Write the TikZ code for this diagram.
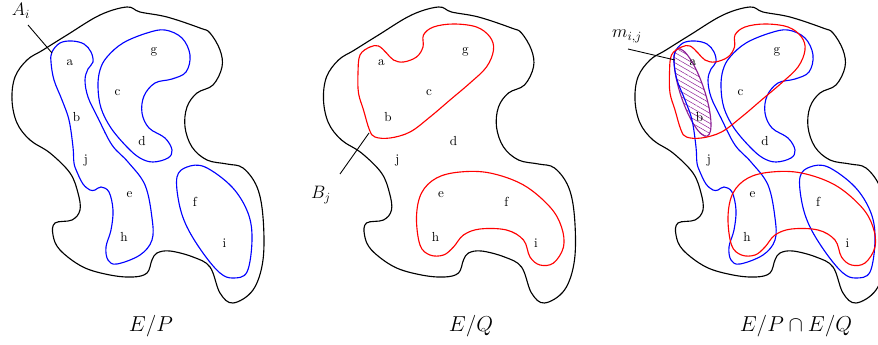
\documentclass[tikz,border=0pt]{standalone}
\usetikzlibrary{patterns.meta}
\definecolor{hatchc}{RGB}{140,30,150}
\tikzset{
  outline/.style={draw=black, line width=0.9pt},
  bluec/.style={draw=blue, line width=0.9pt},
  redc/.style={draw=red, line width=0.9pt},
  lbl/.style={inner sep=0pt, font=\fontsize{10.5}{12}\selectfont},
  plbl/.style={inner sep=0pt, font=\fontsize{14}{16}\selectfont},
  caption/.style={inner sep=0pt, font=\fontsize{16.5}{19}\selectfont},
  pointer/.style={draw=black, line width=0.7pt},
}
\newcommand\OuterShape[1]{\draw[outline,#1] plot[smooth cycle, tension=0.6] coordinates {
 (12,100) (17,123) (30,140) (50,153) (70,173) (78,193) (80,210) (72,220) (55,223) (53,235) (60,250) (83,267) (110,275) (133,277) (147,273) (152,260) (157,253) (170,251) (193,257) (210,267) (220,293) (233,303) (253,290) (263,260) (263,217) (257,187) (243,168) (227,164) (207,160) (192,147) (185,127) (187,107) (197,93) (213,85) (222,67) (220,50) (210,33) (200,28) (167,17) (140,12) (127,7) (100,15) (67,35) (43,50) (27,60) (15,77)};}
\newcommand\BlueA[1]{\draw[bluec,#1] plot[smooth cycle, tension=0.6] coordinates {
 (52,52) (60,43) (72,41) (84,44) (91,52) (93,62) (88,69) (85,80) (88,97) (98,118) (112,145) (128,162) (145,185) (152,218) (152,240) (140,255) (117,264) (108,260) (106,247) (111,230) (113,210) (109,192) (101,187) (95,190) (90,190) (83,184) (77,172) (74,163) (73,147) (69,120) (62,100) (54,80) (51,62)};}
\newcommand\BlueB[1]{\draw[bluec,#1] plot[smooth cycle, tension=0.6] coordinates {
 (98,87) (100,70) (107,57) (123,43) (147,33) (165,30) (182,38) (190,55) (186,72) (172,79) (155,83) (144,96) (142,113) (149,128) (165,138) (172,150) (168,158) (153,162) (140,158) (127,147) (111,128) (101,108)};}
\newcommand\BlueC[1]{\draw[bluec,#1] plot[smooth cycle, tension=0.6] coordinates {
 (177,177) (187,167) (205,167) (232,187) (248,213) (252,240) (247,272) (233,278) (220,273) (203,253) (187,227) (179,203)};}
\newcommand\RedA[1]{\draw[redc,#1] plot[smooth cycle, tension=0.6] coordinates {
 (46.5,73) (48.5,55) (58.5,47) (67,46) (75,53) (82,60) (92,62) (105,57) (111.5,47) (112,35) (122,27) (142,24) (165,27) (178.5,37) (182,50) (175,67) (158.5,83) (138.5,100) (118.5,117) (98.5,132) (78.5,138) (63.5,137) (58,130) (52,110) (47,93)};}
\newcommand\RedB[1]{\draw[redc,#1] plot[smooth cycle, tension=0.6] coordinates {
 (105,217) (110,193) (125,178) (148.5,172) (178.5,173) (212,185) (238.5,207) (250,227) (252,247) (242,263) (228.5,265) (218.5,257) (212,240) (195,230) (168.5,229) (152,235) (142,247) (132,255) (118.5,255) (108.5,245)};}
\newcommand\Letters[2]{%
 \begin{scope}[shift={(#1,0)}]
 \node[lbl] (a#2) at (70,63) {a};
 \node[lbl] (b#2) at (76.5,117) {b};
 \node[lbl] (c#2) at (117.5,93) {c};
 \node[lbl] (d#2) at (142,141) {d};
 \node[lbl] (e#2) at (129.5,195) {e};
 \node[lbl] (f#2) at (195,202) {f};
 \node[lbl] (g#2) at (154,52) {g};
 \node[lbl] (h#2) at (124,237) {h};
 \node[lbl] (i#2) at (224.5,243) {i};
 \node[lbl] (j#2) at (86,161) {j};
 \end{scope}}
\begin{document}
\begin{tikzpicture}[x=0.8pt, y=-0.8pt]
\useasboundingbox (0,0) rectangle (878,345);
\clip (0,0) rectangle (878,345);
% Panel 1
\OuterShape{}
\BlueA{} \BlueB{} \BlueC{}
\Letters{0}{1}
\node[plbl] (Ai) at (21,11) {$A_i$};
\coordinate (Astart) at (28,25);
\coordinate (Aend) at (52,53);
\draw[pointer] (Astart) -- (Aend);
\node[caption] (cap1) at (151,326) {$E/P$};
% Panel 2
\OuterShape{shift={(311.5,0)}}
\RedA{shift={(311.5,0)}} \RedB{shift={(311.5,0)}}
\Letters{311.5}{2}
\node[plbl] (Bj) at (321,195) {$B_j$};
\coordinate (Bstart) at (340,174);
\coordinate (Bend) at (369,133);
\draw[pointer] (Bstart) -- (Bend);
\node[caption] (cap2) at (471,326) {$E/Q$};
% Panel 3
\OuterShape{shift={(623,0)}}
\draw[draw=hatchc, line width=0.9pt, pattern={Lines[angle=-30, distance=3.5pt, line width=0.4pt]}, pattern color=hatchc, shift={(692.5,92.5)}, rotate=-71.5] (0,0) ellipse [x radius=46, y radius=12];
\BlueA{shift={(623,0)}} \BlueB{shift={(623,0)}} \BlueC{shift={(623,0)}}
\RedA{shift={(623,0)}} \RedB{shift={(623,0)}}
\Letters{623}{3}
\node[plbl] (mij) at (627,36) {$m_{i,j}$};
\coordinate (Mstart) at (628,49);
\coordinate (Mend) at (675,60);
\draw[pointer] (Mstart) -- (Mend);
\node[caption] (cap3) at (796,326) {$E/P\cap E/Q$};
\end{tikzpicture}
\end{document}
